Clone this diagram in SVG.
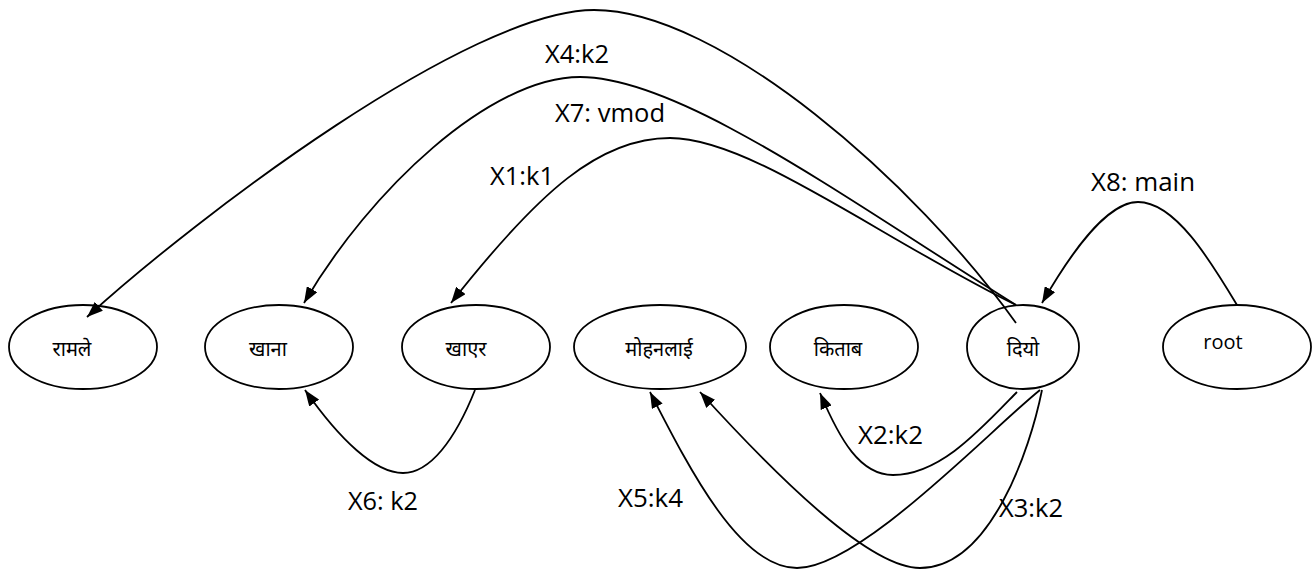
<svg xmlns="http://www.w3.org/2000/svg" width="1313" height="571" viewBox="0 0 1313 571">
<style>
.node{fill:#fff;stroke:#000;stroke-width:1.8}
.nt{font-family:"Noto Sans Devanagari","Lohit Devanagari","Noto Sans",sans-serif;font-size:20px;fill:#000;text-anchor:middle}
.rt{font-family:"Open Sans","Liberation Sans",sans-serif;font-size:20px;fill:#000;text-anchor:middle}
.edge{fill:none;stroke:#000;stroke-width:1.8}
.lbl{font-family:"Open Sans","Liberation Sans",sans-serif;font-size:26px;fill:#000}
</style>
<defs>
<marker id="arr" markerUnits="userSpaceOnUse" viewBox="0 0 16 12" refX="16" refY="6" markerWidth="16" markerHeight="12" orient="auto">
<path d="M0,0 L16,6 L0,12 z" fill="#000"/>
</marker>
</defs>
<rect width="1313" height="571" fill="#fff"/>
<g id="n-ramle"><ellipse class="node" cx="83" cy="347" rx="74" ry="42"/><text class="nt" x="72" y="356">रामले</text></g>
<g id="n-khana"><ellipse class="node" cx="279" cy="347" rx="74" ry="42"/><text class="nt" x="268" y="356">खाना</text></g>
<g id="n-khaera"><ellipse class="node" cx="476" cy="347" rx="74" ry="42"/><text class="nt" x="466" y="356">खाएर</text></g>
<g id="n-mohanlai"><ellipse class="node" cx="660" cy="347" rx="86" ry="42"/><text class="nt" x="659" y="356">मोहनलाई</text></g>
<g id="n-kitab"><ellipse class="node" cx="844" cy="347" rx="74" ry="42"/><text class="nt" x="838" y="356">किताब</text></g>
<g id="n-diyo"><ellipse class="node" cx="1023" cy="347" rx="56" ry="42"/><text class="nt" x="1023" y="356">दियो</text></g>
<g id="n-root"><ellipse class="node" cx="1237" cy="347" rx="74" ry="42"/><text class="rt" x="1223" y="349">root</text></g>
<g id="connectors">
<path class="edge" marker-end="url(#arr)" d="M1016,323 C916,183 720,10 594,10 C470,10 198,216 87,317"/>
<path class="edge" marker-end="url(#arr)" d="M1016,305 C846,199 680,77 580,77 C490,77 370,190 304,303"/>
<path class="edge" marker-end="url(#arr)" d="M1016,305 C880,238 750,138 670,138 C600,138 540,190 451,303"/>
<path class="edge" marker-end="url(#arr)" d="M1237,305 C1210,260 1175,202 1138,202 C1105,202 1068,258 1042,303"/>
<path class="edge" marker-end="url(#arr)" d="M475,390 C455,440 430,473 403,473 C375,473 340,440 305,390"/>
<path class="edge" marker-end="url(#arr)" d="M1017,392 C980,430 940,475 893,475 C860,475 840,440 820,393"/>
<path class="edge" marker-end="url(#arr)" d="M1040,390 C990,430 860,568 797,568 C740,568 690,470 650,392"/>
<path class="edge" marker-end="url(#arr)" d="M1042,390 C1030,450 990,568 920,568 C870,568 780,480 700,392"/>
</g>
<g id="labels">
<text class="lbl" x="545" y="63" textLength="64" lengthAdjust="spacingAndGlyphs">X4:k2</text>
<text class="lbl" x="555" y="122" textLength="110" lengthAdjust="spacingAndGlyphs">X7: vmod</text>
<text class="lbl" x="490" y="185" textLength="64" lengthAdjust="spacingAndGlyphs">X1:k1</text>
<text class="lbl" x="1091" y="191" textLength="104" lengthAdjust="spacingAndGlyphs">X8: main</text>
<text class="lbl" x="348" y="510" textLength="70" lengthAdjust="spacingAndGlyphs">X6: k2</text>
<text class="lbl" x="858" y="444" textLength="65" lengthAdjust="spacingAndGlyphs">X2:k2</text>
<text class="lbl" x="618" y="507" textLength="65" lengthAdjust="spacingAndGlyphs">X5:k4</text>
<text class="lbl" x="999" y="517" textLength="64" lengthAdjust="spacingAndGlyphs">X3:k2</text>
</g>
</svg>
